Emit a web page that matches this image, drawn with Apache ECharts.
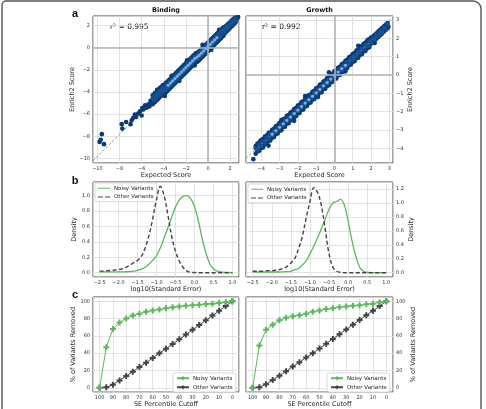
<!DOCTYPE html>
<html><head><meta charset="utf-8">
<script src="https://cdn.jsdelivr.net/npm/echarts@6/dist/echarts.min.js"></script>
<style>html,body{margin:0;padding:0;background:#fff}#c{width:486px;height:409px}</style>
</head><body><div id="c"></div>
<script>
// ---------- Panel a: Binding scatter (Expected vs Enrich2) ----------
const bindBandX = [-5.0,-4.9,-4.8,-4.7,-4.6,-4.5,-4.4,-4.3,-4.2,-4.1,-4.0,-3.9,-3.8,-3.7,-3.6,-3.5,-3.4,-3.3,-3.2,-3.1,-3.0,-2.9,-2.8,-2.7,-2.6,-2.5,-2.4,-2.3,-2.2,-2.1,-2.0,-1.9,-1.8,-1.7,-1.6,-1.5,-1.4,-1.3,-1.2,-1.1,-1.0,-0.9,-0.8,-0.7,-0.6,-0.5,-0.4,-0.3,-0.2,-0.1,0.0,0.1,0.2,0.3,0.4,0.5,0.6,0.7,0.8,0.9,1.0,1.1,1.2,1.3,1.4,1.5,1.6,1.7,1.8,1.9,2.0,2.1,2.2,2.3,2.4,2.5];
const bindUpperY = [-4.3,-4.25,-4.1,-4.05,-3.9,-3.8,-3.72,-3.6,-3.55,-3.4,-3.4,-3.3,-3.18,-3.12,-3.0,-2.92,-2.8,-2.72,-2.62,-2.5,-2.42,-2.3,-2.22,-2.1,-2.02,-1.92,-1.8,-1.72,-1.6,-1.52,-1.42,-1.3,-1.22,-1.1,-1.02,-0.92,-0.8,-0.72,-0.62,-0.52,-0.5,-0.42,-0.35,-0.22,-0.15,-0.05,0.05,0.12,0.25,0.32,0.45,0.55,0.62,0.75,0.85,0.92,1.05,1.12,1.25,1.33,1.42,1.55,1.62,1.72,1.82,1.85,1.92,2.02,2.1,2.2,2.28,2.4,2.48,2.58,2.65,2.72];
const bindMidY = [-4.55,-4.75,-4.35,-4.55,-4.15,-4.35,-3.95,-4.15,-3.75,-3.95,-3.65,-3.85,-3.45,-3.65,-3.25,-3.45,-3.05,-3.25,-2.85,-3.05,-2.65,-2.85,-2.45,-2.65,-2.25,-2.45,-2.05,-2.25,-1.85,-2.05,-1.65,-1.85,-1.45,-1.65,-1.25,-1.45,-1.05,-1.25,-0.85,-1.05,-0.75,-0.95,-0.55,-0.75,-0.35,-0.55,-0.15,-0.35,0.05,-0.15,0.25,0.05,0.45,0.25,0.65,0.45,0.85,0.65,1.05,0.85,1.25,1.05,1.45,1.25,1.65,1.45,1.8,1.7,2.0,1.9,2.2,2.1,2.4,2.3,2.6,2.5];
const bindLowerY = [-5.1,-4.95,-4.9,-4.75,-4.72,-4.58,-4.5,-4.38,-4.32,-4.2,-4.2,-4.1,-4.02,-3.9,-3.82,-3.7,-3.62,-3.5,-3.42,-3.3,-3.22,-3.1,-3.02,-2.9,-2.82,-2.7,-2.62,-2.5,-2.42,-2.3,-2.22,-2.1,-2.02,-1.9,-1.82,-1.7,-1.62,-1.5,-1.42,-1.3,-1.3,-1.2,-1.12,-1.0,-0.92,-0.8,-0.72,-0.6,-0.52,-0.4,-0.32,-0.2,-0.12,0.0,0.08,0.2,0.28,0.4,0.48,0.6,0.68,0.8,0.88,1.0,1.08,1.28,1.38,1.5,1.58,1.7,1.78,1.9,1.98,2.1,2.18,2.3];
const bindSparse = [[-9.8,-8.5],[-9.6,-7.8],[-9.7,-8.3],[-9.4,-8.7],[-7.8,-6.9],[-7.75,-7.3],[-7.4,-6.7],[-7.0,-6.9],[-6.9,-6.55],[-6.76,-6.33],[-6.61,-6.03],[-6.5,-6.25],[-6.31,-5.94],[-6.15,-5.73],[-6.0,-6.12],[-5.95,-5.45],[-5.85,-5.57],[-5.7,-5.2],[-5.55,-5.42],[-5.4,-5.12],[-5.3,-5.3],[-5.2,-4.8],[-5.09,-4.96],[-4.6,-3.8],[-3.9,-4.35],[-3.3,-2.55],[-2.6,-3.0],[-1.9,-1.15],[-1.2,-1.6],[-0.5,0.25],[0.3,-0.2],[1.0,1.6],[2.6,2.55],[2.73,2.76]];
const bindLightX = [-3.6,-3.4,-3.2,-3.0,-2.8,-2.6,-2.4,-2.2,-2.0,-1.8,-1.6,-1.4,-1.2,-1.0,-0.8,-0.6,-0.4,-0.2,0.0,0.2,0.4,0.6,0.8];
const bindLightY = [-3.4,-3.2,-3.0,-2.8,-2.6,-2.4,-2.2,-2.0,-1.8,-1.6,-1.4,-1.2,-1.0,-0.85,-0.7,-0.5,-0.3,-0.1,0.1,0.3,0.5,0.7,0.9];
const bindFitLine = [[-10.4,-10.2],[2.8,2.9]];
const bindXRange = [-10.4, 2.8];
const bindYRange = [-10.4, 2.85];
const bindR2 = 'r\u00b2 = 0.995';

// ---------- Panel a: Growth scatter ----------
const growBandX = [-4.3,-4.2,-4.1,-4.0,-3.9,-3.8,-3.7,-3.6,-3.5,-3.4,-3.3,-3.2,-3.1,-3.0,-2.9,-2.8,-2.7,-2.6,-2.5,-2.4,-2.3,-2.2,-2.1,-2.0,-1.9,-1.8,-1.7,-1.6,-1.5,-1.4,-1.3,-1.2,-1.1,-1.0,-0.9,-0.8,-0.7,-0.6,-0.5,-0.4,-0.3,-0.2,-0.1,0.0,0.1,0.2,0.3,0.4,0.5,0.6,0.7,0.8,0.9,1.0,1.1,1.2,1.3,1.4,1.5,1.6,1.7,1.8,1.9,2.0,2.1,2.2,2.3,2.4,2.5,2.6,2.7,2.8,2.9];
const growUpperY = [-3.88,-3.74,-3.68,-3.55,-3.5,-3.36,-3.3,-3.17,-3.12,-2.99,-2.93,-2.8,-2.74,-2.61,-2.56,-2.42,-2.37,-2.23,-2.18,-2.05,-1.99,-1.86,-1.8,-1.67,-1.62,-1.48,-1.43,-1.29,-1.24,-1.11,-1.05,-0.92,-0.86,-0.73,-0.68,-0.54,-0.49,-0.35,-0.3,-0.17,-0.11,0.02,0.08,0.21,0.26,0.4,0.45,0.59,0.64,0.77,0.83,0.96,1.02,1.15,1.2,1.34,1.39,1.53,1.58,1.71,1.77,1.9,1.96,2.05,2.1,2.2,2.28,2.38,2.47,2.56,2.66,2.74,2.84];
const growMidY = [-4.0,-4.05,-3.81,-3.86,-3.63,-3.67,-3.44,-3.48,-3.25,-3.3,-3.06,-3.11,-2.87,-2.92,-2.69,-2.73,-2.5,-2.54,-2.31,-2.36,-2.12,-2.17,-1.93,-1.98,-1.75,-1.79,-1.56,-1.6,-1.37,-1.42,-1.18,-1.23,-0.99,-1.04,-0.81,-0.85,-0.62,-0.66,-0.43,-0.48,-0.24,-0.29,-0.05,-0.1,0.13,0.09,0.32,0.28,0.51,0.46,0.7,0.65,0.89,0.84,1.07,1.03,1.26,1.22,1.45,1.4,1.64,1.59,1.83,1.78,2.01,1.97,2.2,2.16,2.39,2.34,2.58,2.53,2.77];
const growLowerY = [-4.29,-4.17,-4.13,-3.98,-3.95,-3.79,-3.76,-3.6,-3.57,-3.42,-3.38,-3.23,-3.19,-3.04,-3.01,-2.85,-2.82,-2.66,-2.63,-2.48,-2.44,-2.29,-2.25,-2.1,-2.07,-1.91,-1.88,-1.72,-1.69,-1.54,-1.5,-1.35,-1.31,-1.16,-1.13,-0.97,-0.94,-0.78,-0.75,-0.6,-0.56,-0.41,-0.37,-0.22,-0.19,-0.03,0.0,0.16,0.19,0.34,0.38,0.53,0.57,0.72,0.75,0.91,0.94,1.1,1.13,1.28,1.32,1.47,1.51,1.7,1.79,1.89,1.98,2.08,2.17,2.26,2.36,2.45,2.55];
const growSparse = [[-4.43,-4.59],[-4.05,-3.6],[-3.6,-3.85],[-2.9,-2.45],[-2.2,-2.5],[-1.6,-1.15],[-0.9,-1.2],[-0.3,0.15],[0.6,0.2],[1.3,1.6],[2.2,1.75],[2.95,2.64]];
const growLightX = [-3.4,-3.2,-3.0,-2.8,-2.6,-2.4,-2.2,-2.0,-1.8,-1.6,-1.4,-1.2,-1.0,-0.8,-0.6,-0.4,-0.2,0.0,0.2,0.4,0.6];
const growLightY = [-3.23,-3.04,-2.85,-2.66,-2.47,-2.29,-2.1,-1.91,-1.72,-1.53,-1.35,-1.16,-0.97,-0.78,-0.59,-0.41,-0.22,-0.03,0.16,0.35,0.53];
const growFitLine = [[-4.83,-4.55],[3.2,3.12]];
const growXRange = [-4.83, 3.2];
const growYRange = [-4.8, 3.22];
const growR2 = 'r\u00b2 = 0.992';

// ---------- Panel b: density of log10(Standard Error) ----------
const seX = [-2.5,-2.4,-2.3,-2.2,-2.1,-2.0,-1.9,-1.8,-1.7,-1.6,-1.5,-1.4,-1.3,-1.2,-1.1,-1.0,-0.9,-0.8,-0.7,-0.6,-0.5,-0.4,-0.3,-0.2,-0.1,0.0,0.1,0.2,0.3,0.4,0.5,0.6,0.7,0.8,0.9,1.0];
const bNoisyLeft = [0.01,0.01,0.01,0.01,0.01,0.01,0.01,0.012,0.015,0.02,0.03,0.045,0.07,0.11,0.16,0.22,0.32,0.45,0.58,0.72,0.85,0.94,0.99,1.0,0.96,0.86,0.68,0.45,0.26,0.12,0.05,0.02,0.01,0.005,0.003,0.002];
const bOtherLeft = [0.02,0.02,0.025,0.03,0.035,0.04,0.05,0.07,0.10,0.13,0.16,0.21,0.32,0.48,0.70,0.95,1.12,1.0,0.75,0.47,0.28,0.15,0.07,0.02,0.005,0.002,0,0,0,0,0,0,0,0,0,0];
const bNoisyRight = [0.01,0.01,0.01,0.01,0.01,0.01,0.01,0.01,0.012,0.015,0.02,0.04,0.06,0.11,0.17,0.27,0.38,0.50,0.63,0.77,0.91,1.0,1.02,1.05,0.97,0.74,0.46,0.24,0.08,0.02,0.005,0.002,0,0,0,0];
const bOtherRight = [0.02,0.02,0.02,0.025,0.03,0.03,0.035,0.045,0.06,0.09,0.14,0.2,0.34,0.52,0.78,1.02,1.22,1.15,0.96,0.62,0.27,0.08,0.02,0.005,0,0,0,0,0,0,0,0,0,0,0,0];

// ---------- Panel c: % removed vs SE percentile cutoff ----------
const cutoff = [100,95,90,85,80,75,70,65,60,55,50,45,40,35,30,25,20,15,10,5,0];
const cNoisyLeft = [0,47,68,75.5,80,83.5,85.5,88,89.5,90.5,92,93,94,95,95.5,96,96.8,97.3,98.2,99,100];
const cOtherLeft = [0,0.5,3.5,8.5,13.5,18.5,24,29,34.5,40,45,50.5,56,61.5,67,72.5,78,83.5,89,94.5,100];
const cNoisyRight = [0,49,67,73,78,81,82.7,84,85.7,88,89.5,91,92,93.2,94,95,95.5,96.6,97.3,98.8,100];
const cOtherRight = [0,0.5,4,9,14,19,24.5,29.5,35,40,45.5,51,56.5,62,67.5,73,78.5,84,89,94.5,100];

const LABELS = {bNL:'Noisy Variants', bOL:'Other Variants', bNR:'Noisy Variants', bOR:'Other Variants',
                cNL:'Noisy Variants', cOL:'Other Variants', cNR:'Noisy Variants', cOR:'Other Variants'};

// ---------- styling ----------
const FONT = 'DejaVu Sans';
const GREEN = '#5cb85c';
const DGRAY = '#444444';
const NAVY = '#0b3a78', MIDB = '#17508f', LIGHTB = '#78aedb';
const PLUS = 'path://M1,0H2V1H3V2H2V3H1V2H0V1H1Z';
const SOLID_ICON = 'path://M0,0H12V1H0Z';
const DASH_ICON = 'path://M0,0H5V1H0ZM7,0H12V1H7Z';
const minus = s => String(s).replace('-', '\u2212');
const fmt = dec => v => minus((Math.abs(v) < 1e-9 ? 0 : v).toFixed(dec));
const zip = (xs, ys) => xs.map((x, i) => [x, ys[i]]);

function axis(gi, min, max, split, dec, opts) {
  return Object.assign({
    type: 'value', gridIndex: gi, min: min, max: max, splitNumber: split,
    nameLocation: 'middle',
    nameTextStyle: {fontFamily: FONT, fontSize: 6.5, color: '#262626'},
    axisLine: {show: false}, axisTick: {show: false},
    axisLabel: {fontFamily: FONT, fontSize: 5, color: '#333', margin: 3,
                showMinLabel: false, showMaxLabel: false, formatter: fmt(dec)},
    splitLine: {show: true, lineStyle: {color: '#dcdcdc', width: 0.8}}
  }, opts || {});
}

const grids = [
  {left: 93, top: 16, width: 146, height: 147},
  {left: 246, top: 16, width: 147, height: 147},
  {left: 93, top: 182, width: 146, height: 95},
  {left: 246, top: 182, width: 147, height: 95},
  {left: 93, top: 297, width: 146, height: 98},
  {left: 246, top: 297, width: 147, height: 98}
].map(g => Object.assign(g, {show: true, borderColor: '#444', borderWidth: 1, backgroundColor: 'transparent'}));

const xAxes = [
  axis(0, bindXRange[0], bindXRange[1], 6, 0, {name: 'Expected Score', nameGap: 7}),
  axis(1, growXRange[0], growXRange[1], 8, 0, {name: 'Expected Score', nameGap: 7}),
  axis(2, -2.675, 1.175, 8, 1, {name: 'log10(Standard Error)', nameGap: 8.5}),
  axis(3, -2.675, 1.175, 8, 1, {name: 'log10(Standard Error)', nameGap: 8.5}),
  axis(4, -5, 105, 11, 0, {name: 'SE Percentile Cutoff', nameGap: 7, inverse: true}),
  axis(5, -5, 105, 11, 0, {name: 'SE Percentile Cutoff', nameGap: 7, inverse: true})
];
const yAxes = [
  axis(0, bindYRange[0], bindYRange[1], 6, 0, {name: 'Enrich2 Score', nameGap: 13, nameRotate: 90}),
  axis(1, growYRange[0], growYRange[1], 8, 0, {name: 'Enrich2 Score', nameGap: 11, nameRotate: 90, position: 'right'}),
  axis(2, -0.056, 1.176, 6, 1, {name: 'Density', nameGap: 11, nameRotate: 90}),
  axis(3, -0.062, 1.30, 7, 1, {name: 'Density', nameGap: 12, nameRotate: 90, position: 'right'}),
  axis(4, -5, 105, 5, 0, {name: '% of Variants Removed', nameGap: 12, nameRotate: 90}),
  axis(5, -5, 105, 5, 0, {name: '% of Variants Removed', nameGap: 12, nameRotate: 90, position: 'right'})
];

function fitSeries(gi, pts) {
  return {type: 'line', xAxisIndex: gi, yAxisIndex: gi, data: pts, symbol: 'none', z: 1, silent: true,
    lineStyle: {color: '#777', width: 0.8, type: [2.5, 2]},
    markLine: {silent: true, symbol: 'none', label: {show: false},
      lineStyle: {color: '#b3b3b3', width: 1.6, type: 'solid'},
      data: [{xAxis: 0}, {yAxis: 0}]}};
}
function scat(gi, pts, color, z, size) {
  return {type: 'scatter', xAxisIndex: gi, yAxisIndex: gi, data: pts, symbolSize: size || 4.6, z: z, silent: true,
    itemStyle: {color: color, opacity: 1}};
}
function dens(gi, name, ys, dashed) {
  return {type: 'line', name: name, xAxisIndex: gi, yAxisIndex: gi, data: zip(seX, ys), symbol: 'none',
    smooth: 0.35, z: dashed ? 4 : 3, silent: true,
    lineStyle: dashed ? {color: DGRAY, width: 1.4, type: [4, 2.5]} : {color: GREEN, width: 1.3},
    itemStyle: {color: dashed ? DGRAY : GREEN}};
}
function cut(gi, name, ys, color, z) {
  return {type: 'line', name: name, xAxisIndex: gi, yAxisIndex: gi, data: zip(cutoff, ys),
    symbol: PLUS, symbolSize: 6, showSymbol: true, z: z, silent: true,
    lineStyle: {color: color, width: 1}, itemStyle: {color: color}};
}

const series = [
  fitSeries(0, bindFitLine),
  scat(0, bindSparse, NAVY, 3),
  scat(0, zip(bindBandX, bindUpperY), NAVY, 3),
  scat(0, zip(bindBandX, bindLowerY), NAVY, 3),
  scat(0, zip(bindBandX, bindMidY), MIDB, 4),
  scat(0, zip(bindLightX, bindLightY), LIGHTB, 5, 3.2),
  fitSeries(1, growFitLine),
  scat(1, growSparse, NAVY, 3),
  scat(1, zip(growBandX, growUpperY), NAVY, 3),
  scat(1, zip(growBandX, growLowerY), NAVY, 3),
  scat(1, zip(growBandX, growMidY), MIDB, 4),
  scat(1, zip(growLightX, growLightY), LIGHTB, 5, 3.2),
  dens(2, 'bNL', bNoisyLeft, false), dens(2, 'bOL', bOtherLeft, true),
  dens(3, 'bNR', bNoisyRight, false), dens(3, 'bOR', bOtherRight, true),
  cut(4, 'cOL', cOtherLeft, DGRAY, 3), cut(4, 'cNL', cNoisyLeft, GREEN, 4),
  cut(5, 'cOR', cOtherRight, DGRAY, 3), cut(5, 'cNR', cNoisyRight, GREEN, 4)
];

function legend(names, left, top, lineIcons) {
  const data = lineIcons ? [{name: names[0], icon: SOLID_ICON}, {name: names[1], icon: DASH_ICON}] : names;
  return {data: data, left: left, top: top, orient: 'vertical', selectedMode: false,
    itemWidth: 12, itemHeight: lineIcons ? 1.4 : 5, itemGap: lineIcons ? 2.2 : 2.5, padding: [2, 3, 1.5, 3],
    backgroundColor: '#fff', borderColor: '#cccccc', borderWidth: 0.7, borderRadius: 2,
    textStyle: {fontFamily: FONT, fontSize: 5.5, color: '#262626', padding: [0, 0, 0, -1], lineHeight: 6.5},
    formatter: n => LABELS[n]};
}

const txt = (x, y, s, size, weight, align, family) => ({type: 'text', x: x, y: y, silent: true,
  style: {text: s, fontFamily: family || FONT, fontSize: size, fontWeight: weight || 'normal', fill: '#111',
          textAlign: align || 'center', textVerticalAlign: 'middle'}});

const option = {
  animation: false,
  backgroundColor: '#ffffff',
  grid: grids, xAxis: xAxes, yAxis: yAxes, series: series,
  legend: [legend(['bNL', 'bOL'], 95, 183, true), legend(['bNR', 'bOR'], 248, 184, true),
           legend(['cNL', 'cOL'], 173, 373, false), legend(['cNR', 'cOR'], 327, 373, false)],
  graphic: [
    {type: 'rect', silent: true, shape: {x: 2, y: 1, width: 479, height: 440, r: [4, 8, 0, 0]},
     style: {fill: 'none', stroke: '#555', lineWidth: 1.4}},
    txt(75, 14, 'a', 11, 'bold', 'center', 'Liberation Sans'),
    txt(75, 181, 'b', 11, 'bold', 'center', 'Liberation Sans'),
    txt(75, 295, 'c', 11, 'bold', 'center', 'Liberation Sans'),
    txt(166, 10.5, 'Binding', 6.5, 'bold'),
    txt(319.5, 10.5, 'Growth', 6.5, 'bold'),
    txt(110, 27, bindR2, 7.5, 'normal', 'left'),
    txt(262, 27, growR2, 7.5, 'normal', 'left')
  ]
};

const chart = echarts.init(document.getElementById('c'), null, {renderer: 'canvas'});
chart.setOption(option);
</script></body></html>
